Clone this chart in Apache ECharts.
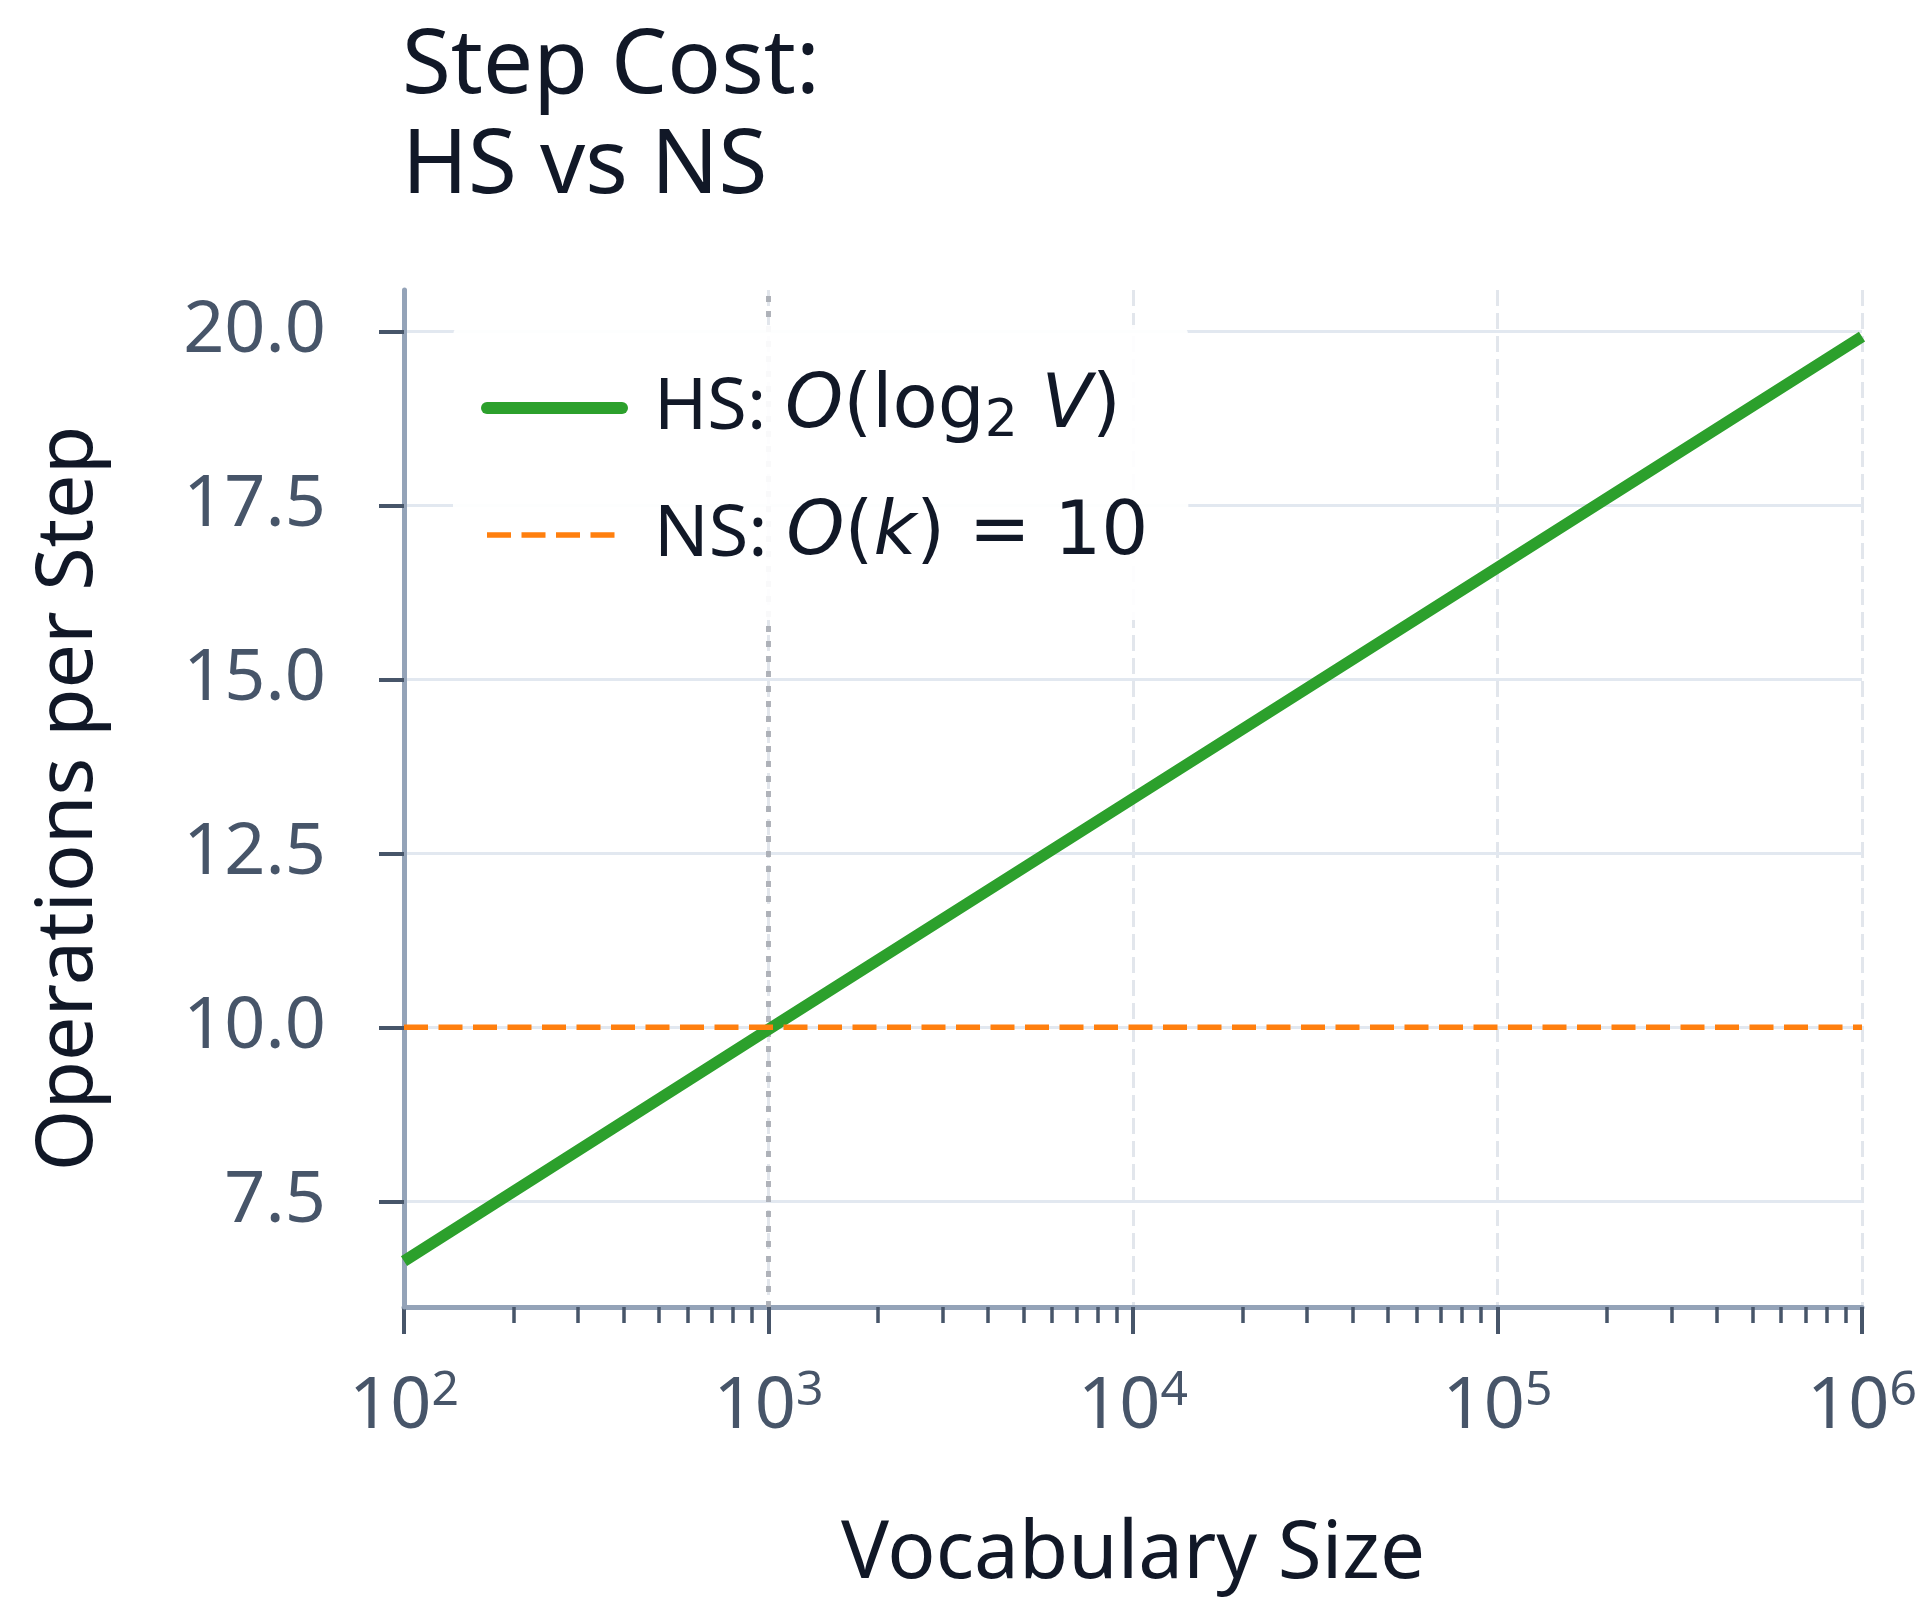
<!DOCTYPE html>
<html>
<head>
<meta charset="utf-8">
<script src="https://cdn.jsdelivr.net/npm/echarts@6/dist/echarts.min.js"></script>
<style>
html,body{margin:0;padding:0;background:#fff;}
#chart{width:1920px;height:1600px;}
</style>
</head>
<body>
<div id="chart"></div>
<script>
// ---- data ----
const titleText = 'Step Cost:\nHS vs NS';
const xAxisName = 'Vocabulary Size';
const yAxisName = 'Operations per Step';
const vocabSizes = [100, 1000, 10000, 100000, 1000000];
const hsOps = [6.64, 9.97, 13.29, 16.61, 19.93];
const nsVocab = [100, 1000000];
const nsOps = [10, 10];
const crossoverV = 1000;
const yTicks = [7.5, 10.0, 12.5, 15.0, 17.5, 20.0];
const xMajorTicks = [100, 1000, 10000, 100000, 1000000];
const xMinorTicks = [200,300,400,500,600,700,800,900,
  2000,3000,4000,5000,6000,7000,8000,9000,
  20000,30000,40000,50000,60000,70000,80000,90000,
  200000,300000,400000,500000,600000,700000,800000,900000];
const hsName = 'HS';
const nsName = 'NS';

const FONT = '"Noto Sans", sans-serif';
const MATH = '"DejaVu Sans", sans-serif';
const DARK = '#111827';
const SLATE = '#475569';
const chart = echarts.init(document.getElementById('chart'), null, {renderer: 'canvas'});

const zip = (xs, ys) => xs.map((x, i) => [x, ys[i]]);

const legendRich = {
  n: {fontFamily: FONT, fontSize: 72, color: DARK, lineHeight: 80, verticalAlign: 'middle'},
  i: {fontFamily: MATH, fontStyle: 'italic', fontSize: 74, color: DARK, lineHeight: 80, verticalAlign: 'middle'},
  m: {fontFamily: MATH, fontSize: 74, color: DARK, lineHeight: 80, verticalAlign: 'middle'},
  s: {fontFamily: MATH, fontSize: 52, color: DARK, lineHeight: 28, verticalAlign: 'bottom'}
};

const option = {
  backgroundColor: '#ffffff',
  animation: false,
  title: {
    text: titleText,
    left: 397,
    top: 13,
    textStyle: {fontFamily: FONT, fontSize: 89, fontWeight: 'normal', color: DARK, lineHeight: 100}
  },
  legend: {
    orient: 'vertical',
    left: 453,
    top: 325,
    padding: [46, 40, 48, 28],
    itemWidth: 135,
    itemHeight: 20,
    itemGap: 50,
    backgroundColor: 'rgba(255,255,255,0.92)',
    borderRadius: 10,
    z: 6,
    data: [
      {name: hsName, lineStyle: {width: 12, cap: 'round'}, itemStyle: {opacity: 0}},
      {name: nsName, lineStyle: {width: 5.5, type: [24, 10.5]}, itemStyle: {opacity: 0}}
    ],
    formatter: function (name) {
      if (name === hsName) {
        return '{n|HS: }{i|O}{m|(log}{s|2}{i| V}{m|)}';
      }
      return '{n|NS: }{i|O}{m|(}{i|k}{m|) = 10}';
    },
    textStyle: {rich: legendRich, padding: [0, 0, 0, 27]}
  },
  grid: {left: 404, right: 58, top: 290, bottom: 287, containLabel: false},
  xAxis: [
    {
      type: 'log',
      logBase: 10,
      min: 100,
      max: 1000000,
      name: xAxisName,
      nameLocation: 'middle',
      nameGap: 208,
      nameTextStyle: {fontFamily: FONT, fontSize: 80, color: DARK},
      axisLine: {show: true, onZero: false, lineStyle: {color: '#94a3b8', width: 5}},
      axisTick: {show: true, length: 27, lineStyle: {color: SLATE, width: 4}, customValues: xMajorTicks},
      axisLabel: {
        margin: 60,
        customValues: xMajorTicks,
        formatter: function (v) {
          return '{b|10}{e|' + Math.round(Math.log10(v)) + '}';
        },
        rich: {
          b: {fontFamily: FONT, fontSize: 72, color: SLATE, lineHeight: 80, verticalAlign: 'middle'},
          e: {fontFamily: FONT, fontSize: 48, color: SLATE, lineHeight: 40, verticalAlign: 'top'}
        }
      },
      splitLine: {show: true, lineStyle: {color: '#e2e6ec', width: 3, type: [16, 7]}},
      minorTick: {show: false},
      z: 1
    },
    {
      type: 'log',
      logBase: 10,
      min: 100,
      max: 1000000,
      position: 'bottom',
      offset: 0,
      gridIndex: 0,
      axisLine: {show: false},
      axisTick: {show: true, length: 16, lineStyle: {color: SLATE, width: 3.5}, customValues: xMinorTicks},
      axisLabel: {show: false},
      splitLine: {show: false},
      z: 3
    }
  ],
  yAxis: {
    type: 'value',
    min: 5.98,
    max: 20.6,
    name: yAxisName,
    nameLocation: 'middle',
    nameGap: 295,
    nameTextStyle: {fontFamily: FONT, fontSize: 79, color: DARK},
    axisLine: {show: true, onZero: false, lineStyle: {color: '#94a3b8', width: 5}},
    axisTick: {show: true, length: 25, lineStyle: {color: SLATE, width: 4}, customValues: yTicks},
    axisLabel: {
      margin: 78,
      customValues: yTicks,
      formatter: function (v) { return Number(v).toFixed(1); },
      fontFamily: FONT, fontSize: 72, color: SLATE
    },
    splitLine: {show: true, lineStyle: {color: '#e2e8f0', width: 3}},
    z: 2
  },
  series: [
    {
      name: hsName,
      type: 'line',
      xAxisIndex: 0,
      data: zip(vocabSizes, hsOps),
      symbol: 'none',
      lineStyle: {color: '#2ca02c', width: 11.5},
      itemStyle: {color: '#2ca02c'},
      z: 3,
      markLine: {
        silent: true,
        z: 2,
        symbol: ['none', 'none'],
        label: {show: false},
        lineStyle: {color: '#a7abb2', width: 5, type: [6, 9], opacity: 0.9},
        data: [{xAxis: crossoverV}]
      }
    },
    {
      name: nsName,
      type: 'line',
      xAxisIndex: 0,
      data: zip(nsVocab, nsOps),
      symbol: 'none',
      lineStyle: {color: '#ff7f0e', width: 5.5, type: [24, 10.5]},
      itemStyle: {color: '#ff7f0e'},
      z: 4
    }
  ]
};
chart.setOption(option);
</script>
</body>
</html>
